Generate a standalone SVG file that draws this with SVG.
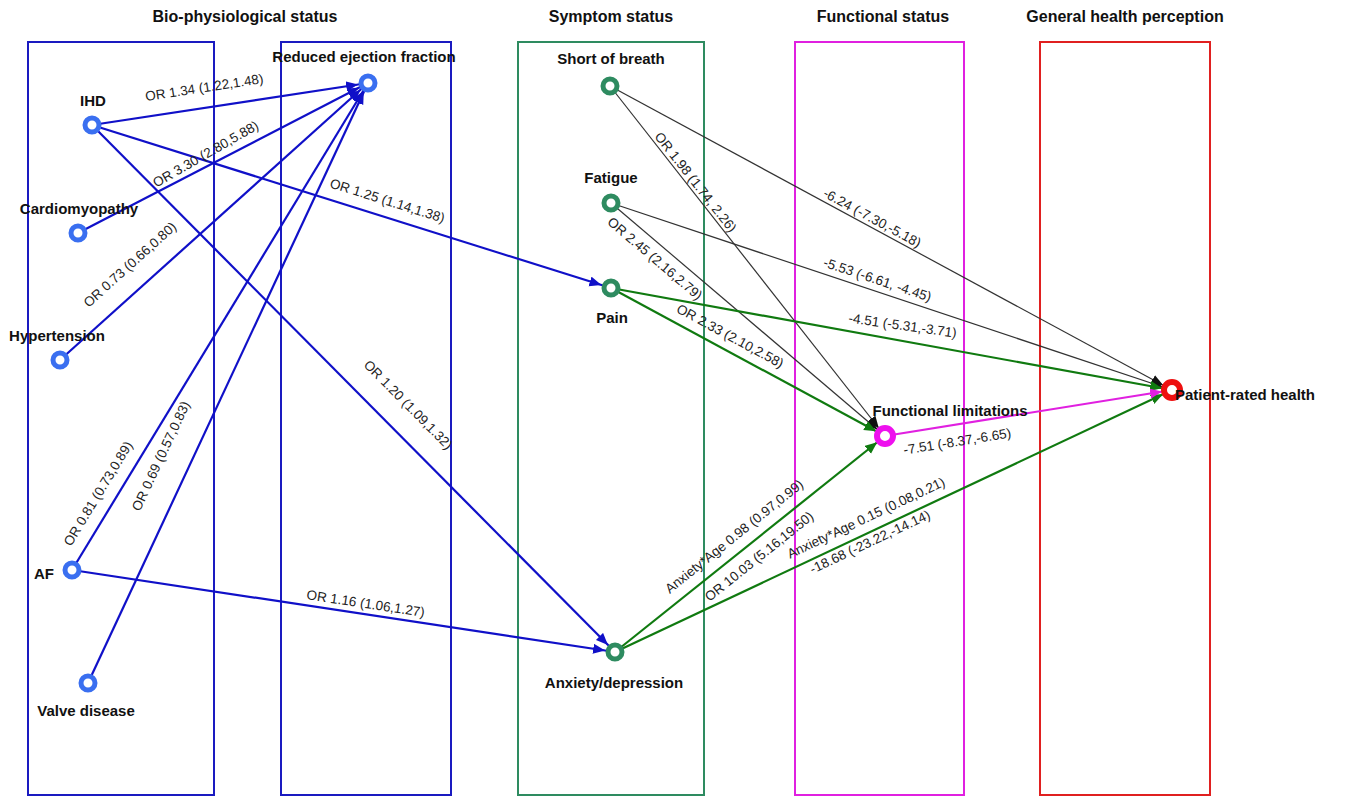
<svg xmlns="http://www.w3.org/2000/svg" width="1366" height="800" viewBox="0 0 1366 800">
<style>
.t{font-family:"Liberation Sans",Arial,sans-serif;font-weight:bold;font-size:16px;fill:#111;text-anchor:middle}
.n{font-family:"Liberation Sans",Arial,sans-serif;font-weight:bold;font-size:15px;fill:#111;text-anchor:middle}
.e{font-family:"Liberation Sans",Arial,sans-serif;font-size:13.5px;fill:#222;text-anchor:middle}
.box{fill:none;stroke-width:2}
.b{stroke:#1010c8;stroke-width:2.2;fill:none}
.k{stroke:#333;stroke-width:1.2;fill:none}
.g{stroke:#107a10;stroke-width:2.2;fill:none}
.m{stroke:#e020e0;stroke-width:2.2;fill:none}
.nb{fill:#fff;stroke:#3a6ff0;stroke-width:5}
.ng{fill:#fff;stroke:#2e8b60;stroke-width:5}
</style>
<defs>
<marker id="ab" markerUnits="userSpaceOnUse" markerWidth="24" markerHeight="12" refX="22" refY="5" orient="auto"><path d="M0,0 L12,5 L0,10 z" fill="#1010c8"/></marker>
<marker id="ak" markerUnits="userSpaceOnUse" markerWidth="24" markerHeight="12" refX="22" refY="5" orient="auto"><path d="M0,0 L12,5 L0,10 z" fill="#111"/></marker>
<marker id="ag" markerUnits="userSpaceOnUse" markerWidth="24" markerHeight="12" refX="22" refY="5" orient="auto"><path d="M0,0 L12,5 L0,10 z" fill="#107a10"/></marker>
<marker id="am" markerUnits="userSpaceOnUse" markerWidth="24" markerHeight="12" refX="22" refY="5" orient="auto"><path d="M0,0 L12,5 L0,10 z" fill="#e020e0"/></marker>
</defs>
<rect width="1366" height="800" fill="#fff"/>
<g id="frames">
<rect class="box" x="28" y="42" width="186" height="753" stroke="#1a1ac0"/>
<rect class="box" x="281" y="42" width="170" height="753" stroke="#1a1ac0"/>
<rect class="box" x="518" y="42" width="186" height="753" stroke="#2e8b60"/>
<rect class="box" x="795" y="42" width="169" height="753" stroke="#e020e0"/>
<rect class="box" x="1040" y="42" width="170" height="753" stroke="#e02020"/>
<text class="t" x="245" y="22">Bio-physiological status</text>
<text class="t" x="611" y="22">Symptom status</text>
<text class="t" x="883" y="22">Functional status</text>
<text class="t" x="1125" y="22">General health perception</text>
</g>
<g id="connectors">
<line class="b" x1="92" y1="125" x2="368" y2="83" marker-end="url(#ab)"/>
<line class="b" x1="78" y1="233" x2="368" y2="83" marker-end="url(#ab)"/>
<line class="b" x1="60" y1="360" x2="368" y2="83" marker-end="url(#ab)"/>
<line class="b" x1="72" y1="570" x2="368" y2="83" marker-end="url(#ab)"/>
<line class="b" x1="88" y1="683" x2="368" y2="83" marker-end="url(#ab)"/>
<line class="b" x1="92" y1="125" x2="611" y2="288" marker-end="url(#ab)"/>
<line class="b" x1="92" y1="125" x2="615" y2="652" marker-end="url(#ab)"/>
<line class="b" x1="72" y1="570" x2="615" y2="652" marker-end="url(#ab)"/>
<line class="k" x1="610" y1="86" x2="885" y2="436" marker-end="url(#ak)"/>
<line class="k" x1="610" y1="86" x2="1172" y2="390" marker-end="url(#ak)"/>
<line class="k" x1="611" y1="203" x2="885" y2="436" marker-end="url(#ak)"/>
<line class="k" x1="611" y1="203" x2="1172" y2="390" marker-end="url(#ak)"/>
<line class="g" x1="611" y1="288" x2="885" y2="436" marker-end="url(#ag)"/>
<path class="g" d="M611,288 Q900,340 1172,390" marker-end="url(#ag)"/>
<line class="g" x1="615" y1="652" x2="885" y2="436" marker-end="url(#ag)"/>
<line class="g" x1="615" y1="652" x2="1172" y2="390" marker-end="url(#ag)"/>
<line class="m" x1="885" y1="436" x2="1172" y2="390" marker-end="url(#am)"/>
<text class="e" transform="translate(205,92) rotate(-8.7)">OR 1.34 (1.22,1.48)</text>
<text class="e" transform="translate(208,158) rotate(-30)">OR 3.30 (2.80,5.88)</text>
<text class="e" transform="translate(133,268) rotate(-42)">OR 0.73 (0.66,0.80)</text>
<text class="e" transform="translate(102,496) rotate(-58.7)">OR 0.81 (0.73,0.89)</text>
<text class="e" transform="translate(165,458) rotate(-65)">OR 0.69 (0.57,0.83)</text>
<text class="e" transform="translate(386,205) rotate(17.4)">OR 1.25 (1.14,1.38)</text>
<text class="e" transform="translate(405,408) rotate(45.2)">OR 1.20 (1.09,1.32)</text>
<text class="e" transform="translate(365,608) rotate(8.6)">OR 1.16 (1.06,1.27)</text>
<text class="e" transform="translate(692,185) rotate(51.8)">OR 1.98 (1.74, 2.26)</text>
<text class="e" transform="translate(870,222) rotate(28.4)">-6.24 (-7.30,-5.18)</text>
<text class="e" transform="translate(652,262) rotate(40.4)">OR 2.45 (2.16,2.79)</text>
<text class="e" transform="translate(876,284) rotate(18.4)">-5.53 (-6.61, -4.45)</text>
<text class="e" transform="translate(728,340) rotate(28.4)">OR 2.33 (2.10,2.58)</text>
<text class="e" transform="translate(902,330) rotate(8)">-4.51 (-5.31,-3.71)</text>
<text class="e" transform="translate(958,446) rotate(-9.1)">-7.51 (-8.37,-6.65)</text>
<text class="e" transform="translate(737,540) rotate(-38.7)">Anxiety*Age 0.98 (0.97,0.99)</text>
<text class="e" transform="translate(762,560) rotate(-38.7)">OR 10.03 (5.16,19.50)</text>
<text class="e" transform="translate(868,522) rotate(-25.2)">Anxiety*Age 0.15 (0.08,0.21)</text>
<text class="e" transform="translate(872,546) rotate(-25.2)">-18.68 (-23.22,-14.14)</text>
</g>
<g id="ihd"><circle class="nb" cx="92" cy="125" r="7"/><text class="n" x="93" y="106">IHD</text></g>
<g id="cardiomyopathy"><circle class="nb" cx="78" cy="233" r="7"/><text class="n" x="79" y="214">Cardiomyopathy</text></g>
<g id="hypertension"><circle class="nb" cx="60" cy="360" r="7"/><text class="n" x="57" y="341">Hypertension</text></g>
<g id="af"><circle class="nb" cx="72" cy="570" r="7"/><text class="n" x="44" y="579">AF</text></g>
<g id="valve"><circle class="nb" cx="88" cy="683" r="7"/><text class="n" x="86" y="716">Valve disease</text></g>
<g id="ref"><circle class="nb" cx="368" cy="83" r="7"/><text class="n" x="364" y="62">Reduced ejection fraction</text></g>
<g id="sob"><circle class="ng" cx="610" cy="86" r="7"/><text class="n" x="611" y="64">Short of breath</text></g>
<g id="fatigue"><circle class="ng" cx="611" cy="203" r="7"/><text class="n" x="611" y="183">Fatigue</text></g>
<g id="pain"><circle class="ng" cx="611" cy="288" r="7"/><text class="n" x="612" y="323">Pain</text></g>
<g id="anxiety"><circle class="ng" cx="615" cy="652" r="7"/><text class="n" x="614" y="688">Anxiety/depression</text></g>
<g id="fl"><circle cx="885" cy="436" r="8" fill="#fff" stroke="#ee10ee" stroke-width="6"/><text class="n" x="950" y="416">Functional limitations</text></g>
<g id="prh"><circle cx="1172" cy="390" r="8" fill="#fff" stroke="#ee1010" stroke-width="6"/><text class="n" x="1245" y="400">Patient-rated health</text></g>
</svg>
